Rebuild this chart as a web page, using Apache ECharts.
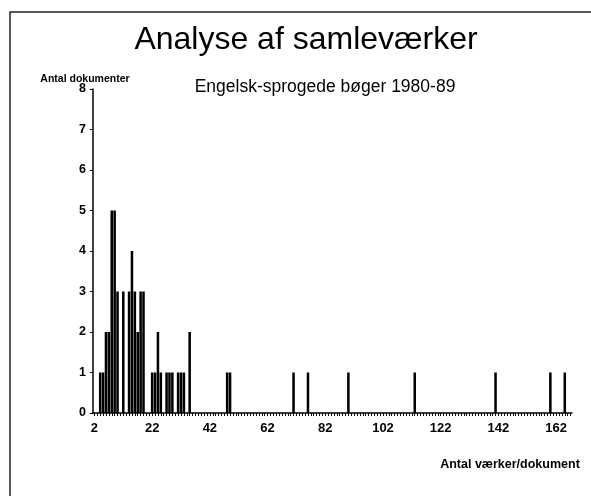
<!DOCTYPE html>
<html>
<head>
<meta charset="utf-8">
<script src="https://cdn.jsdelivr.net/npm/echarts@6/dist/echarts.min.js"></script>
<style>
  html, body { margin: 0; padding: 0; background: #fff; }
  #chart { width: 591px; height: 496px; }
</style>
</head>
<body>
<div id="chart"></div>
<script>
  // antal værker pr. dokument -> antal dokumenter
  var works = [4, 5, 6, 7, 8, 9, 10, 12, 14, 15, 16, 17, 18, 19, 22, 23, 24, 25, 27, 28, 29,
    31, 32, 33, 35, 48, 49, 71, 76, 90, 113, 141, 160, 165];
  var docs = [1, 1, 2, 2, 5, 5, 3, 3, 3, 4, 3, 2, 3, 3, 1, 1, 2, 1, 1, 1, 1,
    1, 1, 1, 2, 1, 1, 1, 1, 1, 1, 1, 1, 1];
  var axisFirst = 2;
  var axisLast = 167;

  var categories = [];
  var values = [];
  for (var v = axisFirst; v <= axisLast; v++) {
    categories.push(String(v));
    var i = works.indexOf(v);
    values.push(i >= 0 ? docs[i] : '-');
  }

  var chart = echarts.init(document.getElementById('chart'));
  var font = 'Liberation Sans, Arial, sans-serif';

  var option = {
    animation: false,
    backgroundColor: '#fff',
    graphic: [
      {
        type: 'rect',
        shape: {x: 10, y: 12, width: 600, height: 500},
        style: {fill: null, stroke: '#222', lineWidth: 1.5}
      }
    ],
    title: [
      {
        text: 'Analyse af samleværker',
        left: 301, top: 19, textAlign: 'center',
        textStyle: {fontFamily: font, fontSize: 32, fontWeight: 'normal', color: '#000'}
      },
      {
        text: 'Engelsk-sprogede bøger 1980-89',
        left: 320, top: 73, textAlign: 'center',
        textStyle: {fontFamily: font, fontSize: 17.5, fontWeight: 'normal', color: '#000'}
      },
      {
        text: 'Antal dokumenter',
        left: 80, top: 69, textAlign: 'center',
        textStyle: {fontFamily: font, fontSize: 10.5, fontWeight: 'bold', color: '#000'}
      },
      {
        text: 'Antal værker/dokument',
        left: 505, top: 453, textAlign: 'center',
        textStyle: {fontFamily: font, fontSize: 12.5, fontWeight: 'bold', color: '#000'}
      }
    ],
    grid: {left: 93, right: 19, top: 89, bottom: 83},
    xAxis: {
      type: 'category',
      data: categories,
      boundaryGap: true,
      axisLine: {lineStyle: {color: '#000', width: 1.5}},
      axisTick: {show: true, interval: 0, alignWithLabel: true, length: 3, lineStyle: {color: '#000'}},
      axisLabel: {
        interval: 19, margin: 9, color: '#000',
        fontFamily: font, fontSize: 13, fontWeight: 'bold'
      },
      splitLine: {show: false}
    },
    yAxis: {
      type: 'value',
      min: 0, max: 8, interval: 1,
      axisLine: {show: true, lineStyle: {color: '#000', width: 1.5}},
      axisTick: {show: true, length: 3, lineStyle: {color: '#000'}},
      axisLabel: {margin: 7, color: '#000', fontFamily: font, fontSize: 12.5, fontWeight: 'bold'},
      splitLine: {show: false}
    },
    series: [
      {
        type: 'bar',
        data: values,
        barWidth: '88%',
        itemStyle: {color: '#000'}
      }
    ]
  };

  chart.setOption(option);
</script>
</body>
</html>
